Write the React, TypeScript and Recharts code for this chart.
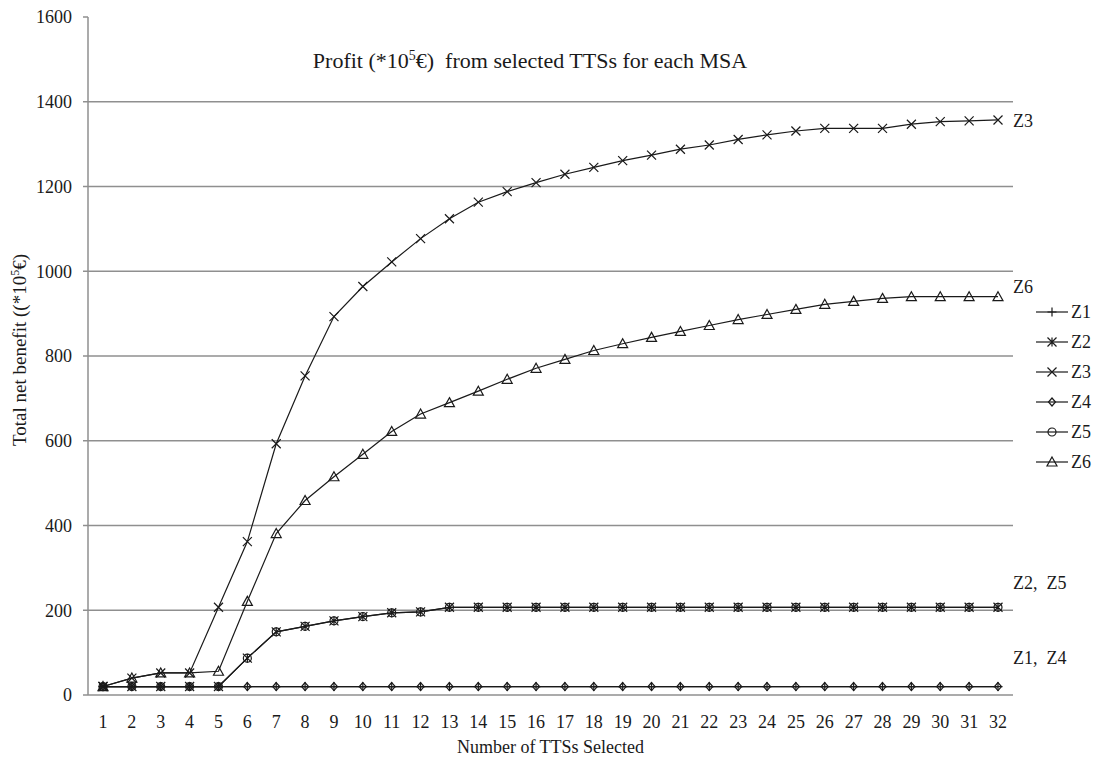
import React from 'react';
import { LineChart, Line, XAxis, YAxis, CartesianGrid, Legend } from 'recharts';

const categories = ['1', '2', '3', '4', '5', '6', '7', '8', '9', '10', '11', '12', '13', '14', '15', '16',
  '17', '18', '19', '20', '21', '22', '23', '24', '25', '26', '27', '28', '29', '30', '31', '32'];

const z1 = [20, 20, 20, 20, 20, 20, 20, 20, 20, 20, 20, 20, 20, 20, 20, 20,
  20, 20, 20, 20, 20, 20, 20, 20, 20, 20, 20, 20, 20, 20, 20, 20];
const z2 = [20, 20, 20, 20, 20, 87, 149, 162, 175, 185, 194, 196, 207, 207, 207, 207,
  207, 207, 207, 207, 207, 207, 207, 207, 207, 207, 207, 207, 207, 207, 207, 207];
const z3 = [20, 40, 52, 52, 207, 362, 593, 753, 893, 964, 1022, 1077, 1124, 1163, 1188, 1209,
  1229, 1245, 1261, 1274, 1288, 1298, 1311, 1322, 1331, 1337, 1337, 1337, 1347, 1353, 1355, 1357];
const z4 = [20, 20, 20, 20, 20, 20, 20, 20, 20, 20, 20, 20, 20, 20, 20, 20,
  20, 20, 20, 20, 20, 20, 20, 20, 20, 20, 20, 20, 20, 20, 20, 20];
const z5 = [20, 20, 20, 20, 20, 87, 149, 162, 175, 185, 194, 196, 207, 207, 207, 207,
  207, 207, 207, 207, 207, 207, 207, 207, 207, 207, 207, 207, 207, 207, 207, 207];
const z6 = [20, 40, 52, 52, 56, 221, 381, 459, 515, 568, 622, 663, 690, 717, 745, 771,
  792, 813, 829, 844, 858, 872, 886, 898, 910, 922, 929, 936, 940, 940, 940, 940];

const yTicks = [0, 200, 400, 600, 800, 1000, 1200, 1400, 1600];

const data = categories.map((n, i) => ({
  n, Z1: z1[i], Z2: z2[i], Z3: z3[i], Z4: z4[i], Z5: z5[i], Z6: z6[i],
}));

const FONT = '"Liberation Serif", "DejaVu Serif", serif';
const GRID = '#8f8f8f';
const INK = '#1a1a1a';

type Shape = 'plus' | 'star' | 'cross' | 'diamond' | 'circle' | 'triangle';
const shapes: Record<string, Shape> = {
  Z1: 'plus', Z2: 'star', Z3: 'cross', Z4: 'diamond', Z5: 'circle', Z6: 'triangle',
};

const Marker = ({ cx, cy, shape }: { cx: number; cy: number; shape: Shape }) => {
  const s = { stroke: INK, strokeWidth: 1.2, fill: 'none' };
  const r = 4.5;
  switch (shape) {
    case 'plus':
      return <path d={`M${cx - r},${cy}H${cx + r}M${cx},${cy - r}V${cy + r}`} {...s} />;
    case 'cross':
      return <path d={`M${cx - r},${cy - r}L${cx + r},${cy + r}M${cx - r},${cy + r}L${cx + r},${cy - r}`} {...s} />;
    case 'star':
      return (
        <path
          d={`M${cx - r},${cy - r}L${cx + r},${cy + r}M${cx - r},${cy + r}L${cx + r},${cy - r}M${cx},${cy - r}V${cy + r}`}
          {...s}
        />
      );
    case 'diamond':
      return <path d={`M${cx},${cy - 4}L${cx + 3.5},${cy}L${cx},${cy + 4}L${cx - 3.5},${cy}Z`} {...s} />;
    case 'circle':
      return <circle cx={cx} cy={cy} r={4} {...s} />;
    case 'triangle':
      return <path d={`M${cx},${cy - 5}L${cx + 5},${cy + 4}L${cx - 5},${cy + 4}Z`} {...s} />;
  }
  return null;
};

const makeDot = (shape: Shape) => (props: any) => {
  const { cx, cy, index } = props;
  if (cx == null || cy == null) return <g key={`${shape}-${index}`} />;
  return (
    <g key={`${shape}-${index}`}>
      <Marker cx={cx} cy={cy} shape={shape} />
    </g>
  );
};

const renderLegend = (props: any) => {
  const { payload } = props;
  return (
    <div style={{ fontFamily: FONT, fontSize: 18, color: INK }}>
      {(payload || []).map((entry: any) => (
        <div key={entry.value} style={{ display: 'flex', alignItems: 'center', height: 30 }}>
          <svg width={32} height={14}>
            <line x1={0} y1={7} x2={32} y2={7} stroke={INK} strokeWidth={1.2} />
            <Marker cx={16} cy={7} shape={shapes[entry.dataKey]} />
          </svg>
          <span style={{ marginLeft: 3 }}>{entry.value}</span>
        </div>
      ))}
    </div>
  );
};

const seriesKeys = ['Z1', 'Z2', 'Z3', 'Z4', 'Z5', 'Z6'];

export default function App() {
  return (
    <div style={{ position: 'absolute', left: 0, top: 0, width: 1099, height: 759, background: '#fff' }}>
      <LineChart width={1099} height={759} data={data} margin={{ top: 17, right: 86, bottom: 0, left: 0 }}>
        <CartesianGrid vertical={false} stroke={GRID} strokeWidth={1.5} horizontalValues={[200, 400, 600, 800, 1000, 1200, 1400]} />
        <XAxis
          dataKey="n"
          height={64}
          padding={{ left: 15, right: 15 }}
          tickLine={false}
          axisLine={{ stroke: GRID, strokeWidth: 1.5 }}
          tick={{ fontFamily: FONT, fontSize: 18, fill: INK }}
          tickMargin={14}
          interval={0}
          label={{ value: 'Number of TTSs Selected', position: 'insideBottom', offset: 6, style: { fontFamily: FONT, fontSize: 18, fill: INK } }}
        />
        <YAxis
          width={88}
          domain={[0, 1600]}
          ticks={yTicks}
          interval={0}
          axisLine={{ stroke: GRID, strokeWidth: 1.5 }}
          tickLine={{ stroke: GRID, strokeWidth: 1.5 }}
          tickSize={5}
          tickMargin={11}
          tick={{ fontFamily: FONT, fontSize: 18, fill: INK }}
        />
        <Legend
          layout="vertical"
          align="center"
          verticalAlign="middle"
          content={renderLegend}
          wrapperStyle={{ left: 1036, top: 297, width: 63 }}
        />
        {seriesKeys.map((k) => (
          <Line
            key={k}
            dataKey={k}
            name={k}
            type="linear"
            stroke={INK}
            strokeWidth={1.2}
            dot={makeDot(shapes[k])}
            activeDot={false}
            isAnimationActive={false}
          />
        ))}
      </LineChart>
      <svg
        width={1099}
        height={759}
        style={{ position: 'absolute', left: 0, top: 0, pointerEvents: 'none' }}
        fontFamily={FONT}
        fill={INK}
      >
        <text x={530} y={68} textAnchor="middle" fontSize={22} style={{ whiteSpace: 'pre' }}>
          Profit (*10<tspan dy={-8} fontSize={14}>5</tspan><tspan dy={8}>€)  from selected TTSs for each MSA</tspan>
        </text>
        <text transform="translate(26,350) rotate(-90)" textAnchor="middle" fontSize={19}>
          Total net benefit ((*10<tspan dy={-7} fontSize={12}>5</tspan><tspan dy={7}>€)</tspan>
        </text>
        <text x={1013} y={127} fontSize={18} style={{ whiteSpace: 'pre' }}>Z3</text>
        <text x={1013} y={293} fontSize={18} style={{ whiteSpace: 'pre' }}>Z6</text>
        <text x={1013} y={589} fontSize={18} style={{ whiteSpace: 'pre' }}>Z2,  Z5</text>
        <text x={1013} y={664} fontSize={18} style={{ whiteSpace: 'pre' }}>Z1,  Z4</text>
      </svg>
    </div>
  );
}
